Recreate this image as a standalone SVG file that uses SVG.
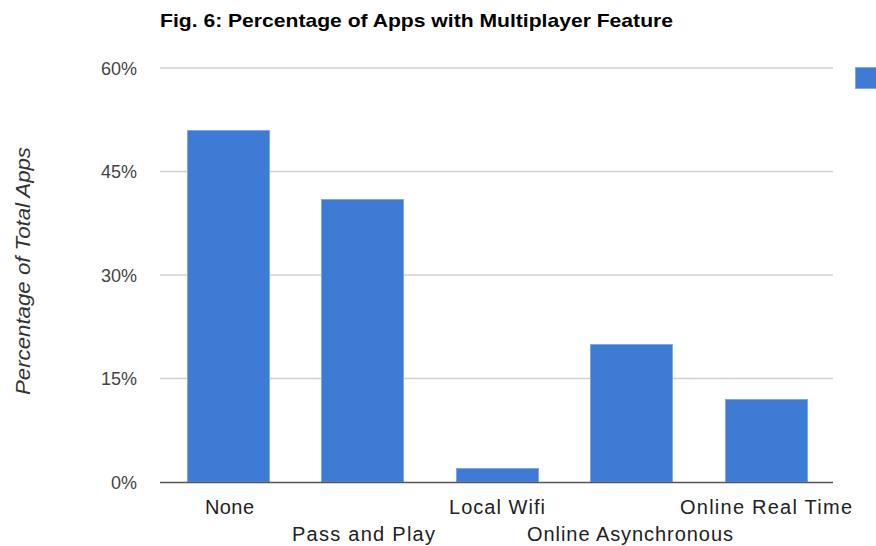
<svg xmlns="http://www.w3.org/2000/svg" width="876" height="546" viewBox="0 0 876 546">
<style>
.grid{stroke:#d0d0d0;stroke-width:1.5}
.axis{stroke:#555;stroke-width:1.5}
.bar{fill:#3d7bd5;stroke:#7fa6e6;stroke-width:1}
.tick{font-family:"Liberation Sans",Arial,sans-serif;font-size:18px;fill:#444;text-anchor:end}
.cat{font-family:"Liberation Sans",Arial,sans-serif;font-size:20px;fill:#222;text-anchor:middle}
.title{font-family:"Liberation Sans",Arial,sans-serif;font-size:19px;font-weight:bold;fill:#000}
.ytitle{font-family:"Liberation Sans",Arial,sans-serif;font-size:20px;font-style:italic;fill:#333;text-anchor:middle}
</style>
<rect width="876" height="546" fill="#fff"/>
<text class="title" x="160" y="27" textLength="513" lengthAdjust="spacingAndGlyphs">Fig. 6: Percentage of Apps with Multiplayer Feature</text>
<g id="gridlines">
<line class="grid" x1="160" y1="68" x2="833" y2="68"/>
<line class="grid" x1="160" y1="171.5" x2="833" y2="171.5"/>
<line class="grid" x1="160" y1="275" x2="833" y2="275"/>
<line class="grid" x1="160" y1="378.5" x2="833" y2="378.5"/>
</g>
<g id="yticks">
<text class="tick" x="137" y="75">60%</text>
<text class="tick" x="137" y="178">45%</text>
<text class="tick" x="137" y="282">30%</text>
<text class="tick" x="137" y="385">15%</text>
<text class="tick" x="137" y="489">0%</text>
</g>
<text class="ytitle" transform="translate(30,271) rotate(-90)" textLength="248" lengthAdjust="spacingAndGlyphs">Percentage of Total Apps</text>
<g id="bar-none"><rect class="bar" x="187.5" y="130.5" width="82" height="351.5"/></g>
<g id="bar-pass"><rect class="bar" x="321.5" y="199.5" width="82" height="282.5"/></g>
<g id="bar-wifi"><rect class="bar" x="456.5" y="468.5" width="82" height="13.5"/></g>
<g id="bar-async"><rect class="bar" x="590.5" y="344.5" width="82" height="137.5"/></g>
<g id="bar-realtime"><rect class="bar" x="725.5" y="399.5" width="82" height="82.5"/></g>
<g id="connectors">
<line class="axis" x1="160" y1="482.5" x2="833" y2="482.5"/>
</g>
<g id="xlabels">
<text class="cat" x="229.5" y="514" textLength="49" lengthAdjust="spacing">None</text>
<text class="cat" x="363.5" y="541" textLength="143" lengthAdjust="spacing">Pass and Play</text>
<text class="cat" x="497" y="514" textLength="96" lengthAdjust="spacing">Local Wifi</text>
<text class="cat" x="630" y="541" textLength="206" lengthAdjust="spacing">Online Asynchronous</text>
<text class="cat" x="766" y="514" textLength="172" lengthAdjust="spacing">Online Real Time</text>
</g>
<g id="legend"><rect class="bar" x="855.5" y="67.5" width="22" height="21"/></g>
</svg>
